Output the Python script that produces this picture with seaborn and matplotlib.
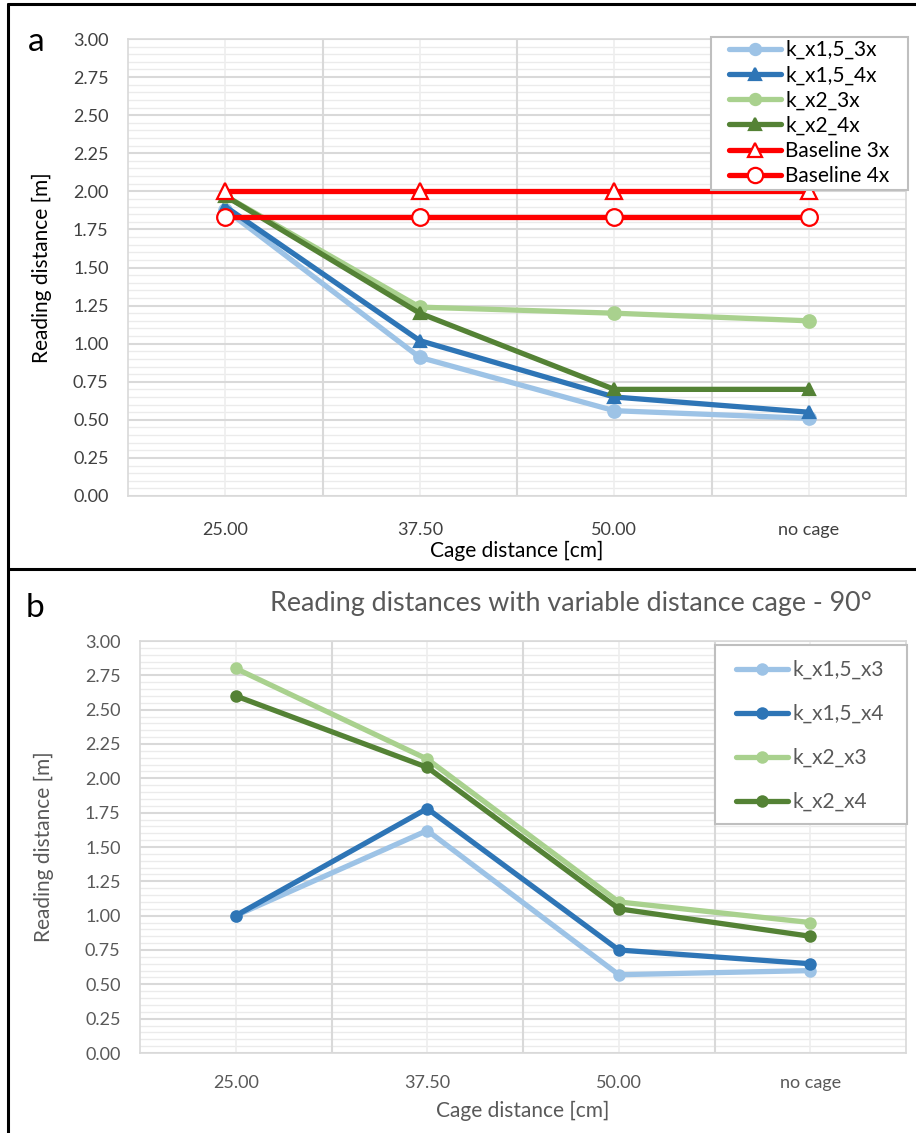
import matplotlib
matplotlib.use("Agg")
import matplotlib.pyplot as plt
from matplotlib.lines import Line2D
from matplotlib.patches import Rectangle
import numpy as np
import pandas as pd
import seaborn as sns

# ---- data -------------------------------------------------------------
cage_labels = ["25.00", "37.50", "50.00", "no cage"]

# panel a
a_names = ["k_x1,5_3x", "k_x1,5_4x", "k_x2_3x", "k_x2_4x", "Baseline 3x", "Baseline 4x"]
a_k15_3x = [1.88, 0.91, 0.56, 0.51]
a_k15_4x = [1.90, 1.02, 0.65, 0.55]
a_k2_3x = [1.97, 1.24, 1.20, 1.15]
a_k2_4x = [1.97, 1.20, 0.70, 0.70]
a_base_3x = [2.00, 2.00, 2.00, 2.00]
a_base_4x = [1.83, 1.83, 1.83, 1.83]

# panel b
b_title = "Reading distances with variable distance cage - 90°"
b_names = ["k_x1,5_x3", "k_x1,5_x4", "k_x2_x3", "k_x2_x4"]
b_k15_x3 = [1.00, 1.62, 0.57, 0.60]
b_k15_x4 = [1.00, 1.78, 0.75, 0.65]
b_k2_x3 = [2.80, 2.14, 1.10, 0.95]
b_k2_x4 = [2.60, 2.08, 1.05, 0.85]

y_ticks = [0.00, 0.25, 0.50, 0.75, 1.00, 1.25, 1.50, 1.75, 2.00, 2.25, 2.50, 2.75, 3.00]

# ---- style ------------------------------------------------------------
sns.set_theme(style="white")
plt.rcParams["font.family"] = ["Lato", "DejaVu Sans"]

LIGHT_BLUE = "#9DC3E6"
DARK_BLUE = "#2E75B6"
LIGHT_GREEN = "#A9D18E"
DARK_GREEN = "#548235"
RED = "#FF0000"

W, H = 916, 1133
fig = plt.figure(figsize=(W / 100, H / 100), dpi=100)
fig.patch.set_facecolor("white")


def px_axes(x0, y0, x1, y1):
    return fig.add_axes([x0 / W, 1 - y1 / H, (x1 - x0) / W, (y1 - y0) / H])


def px_to_axes(ax, px, py):
    """Figure pixel position (from top-left) -> axes fraction."""
    return ax.transAxes.inverted().transform(
        fig.transFigure.transform((px / W, 1 - py / H)))


def style_axes(ax, text_color):
    ax.set_xlim(-0.5, len(cage_labels) - 0.5)
    ax.set_ylim(0, 3.0)
    ax.set_yticks(y_ticks)
    ax.set_yticklabels([f"{v:.2f}" for v in y_ticks])
    ax.set_xticks(range(len(cage_labels)))
    ax.set_xticklabels(cage_labels)
    # light vertical grid at category centres, darker between categories
    for xc in range(len(cage_labels)):
        ax.axvline(xc, color="#EEEEEE", lw=1.2, zorder=0.5)
    for xb in np.arange(0.5, len(cage_labels) - 0.5, 1.0):
        ax.axvline(xb, color="#D9D9D9", lw=1.5, zorder=0.6)
    for yv in np.arange(0.05, 3.0, 0.05):
        if abs(yv / 0.25 - round(yv / 0.25)) > 1e-6:
            ax.axhline(yv, color="#EBEBEB", lw=1.0, zorder=0.4)
    for yv in y_ticks:
        ax.axhline(yv, color="#D9D9D9", lw=1.5, zorder=0.6)
    for s in ax.spines.values():
        s.set_color("#D9D9D9")
        s.set_linewidth(1.2)
    ax.tick_params(axis="both", which="both", length=0, labelsize=13,
                   labelcolor=text_color)
    ax.tick_params(axis="y", pad=14)


def boxed_legend(ax, handles, labels, box_px, anchor_px, spacing, color):
    """Legend without its own frame, inside a hand-sized box."""
    (bx0, by0), (bx1, by1) = box_px
    p0 = px_to_axes(ax, bx0, by1)
    p1 = px_to_axes(ax, bx1, by0)
    ax.add_patch(Rectangle(p0, p1[0] - p0[0], p1[1] - p0[1],
                           transform=ax.transAxes, facecolor="white",
                           edgecolor="#BFBFBF", lw=1.5, clip_on=False,
                           zorder=8))
    leg = ax.legend(handles, labels, loc="upper left",
                    bbox_to_anchor=tuple(px_to_axes(ax, *anchor_px)),
                    fontsize=15, frameon=False, handlelength=2.5,
                    handletextpad=0.2, labelspacing=spacing, borderpad=0,
                    borderaxespad=0.0)
    leg.set_zorder(9)
    for t in leg.get_texts():
        t.set_color(color)
    return leg


# ---- panel a ----------------------------------------------------------
ax_a = px_axes(128, 39, 906, 496)
style_axes(ax_a, "#404040")
ax_a.tick_params(axis="x", pad=19)
x = np.arange(len(cage_labels))

a_series = [
    (a_k15_3x, LIGHT_BLUE, "o", LIGHT_BLUE, LIGHT_BLUE, 9),
    (a_k15_4x, DARK_BLUE, "^", DARK_BLUE, DARK_BLUE, 9),
    (a_k2_3x, LIGHT_GREEN, "o", LIGHT_GREEN, LIGHT_GREEN, 9),
    (a_k2_4x, DARK_GREEN, "^", DARK_GREEN, DARK_GREEN, 9),
    (a_base_3x, RED, "^", "white", RED, 11),
    (a_base_4x, RED, "o", "white", RED, 12),
]
handles_a = []
for name, (vals, col, mk, mfc, mec, ms) in zip(a_names, a_series):
    df = pd.DataFrame({"pos": x, "val": vals})
    sns.lineplot(data=df, x="pos", y="val", ax=ax_a, color=col, lw=3.8,
                 marker=mk, markersize=ms, markerfacecolor=mfc,
                 markeredgecolor=mec, markeredgewidth=1.6, zorder=3)
    handles_a.append(Line2D([], [], color=col, lw=3.8, marker=mk,
                            markersize=ms - 1, markerfacecolor=mfc,
                            markeredgecolor=mec, markeredgewidth=1.6))
ax_a.set_xlabel("Cage distance [cm]", fontsize=15, color="black", labelpad=2)
ax_a.set_ylabel("Reading distance [m]", fontsize=15, color="black", labelpad=15)
boxed_legend(ax_a, handles_a, a_names, ((711, 37), (908, 190)), (729, 40),
             0.25, "black")

# ---- panel b ----------------------------------------------------------
ax_b = px_axes(140, 641, 906, 1053)
style_axes(ax_b, "#595959")
ax_b.tick_params(axis="x", pad=16)
b_series = [
    (b_k15_x3, LIGHT_BLUE),
    (b_k15_x4, DARK_BLUE),
    (b_k2_x3, LIGHT_GREEN),
    (b_k2_x4, DARK_GREEN),
]
handles_b = []
for name, (vals, col) in zip(b_names, b_series):
    df = pd.DataFrame({"pos": x, "val": vals})
    sns.lineplot(data=df, x="pos", y="val", ax=ax_b, color=col, lw=3.8,
                 marker="o", markersize=9, markeredgewidth=0, zorder=3)
    handles_b.append(Line2D([], [], color=col, lw=3.8, marker="o",
                            markersize=9, markeredgewidth=0))
ax_b.set_xlabel("Cage distance [cm]", fontsize=15, color="#595959", labelpad=7)
ax_b.set_ylabel("Reading distance [m]", fontsize=15, color="#595959", labelpad=22)
fig.text(571 / W, 1 - 603 / H, b_title, fontsize=19.4, color="#595959",
         ha="center", va="center")
boxed_legend(ax_b, handles_b, b_names, ((715, 645), (907, 824)), (736, 660),
             1.15, "#595959")

# ---- panel letters and frame -----------------------------------------
fig.text(28 / W, 1 - 42 / H, "a", fontsize=24, color="black", va="center", ha="left")
fig.text(26 / W, 1 - 608 / H, "b", fontsize=24, color="black", va="center", ha="left")

frame_kw = dict(color="black", lw=2.2, transform=fig.transFigure)
fig.add_artist(Line2D([8 / W, 8 / W], [0, 1 - 4 / H], **frame_kw))
fig.add_artist(Line2D([8 / W, 1], [1 - 4 / H, 1 - 4 / H], **frame_kw))
fig.add_artist(Line2D([8 / W, 1], [1 - 569 / H, 1 - 569 / H], **frame_kw))

fig.savefig("out.png", dpi=100, facecolor="white")
